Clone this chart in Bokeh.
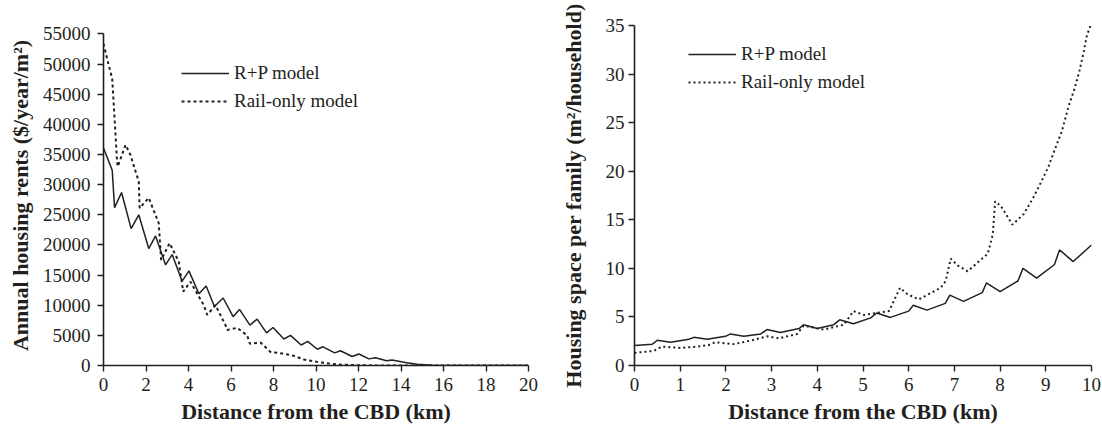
from bokeh.plotting import figure
from bokeh.layouts import row
from bokeh.models import Range1d, Legend, LegendItem, FixedTicker, BasicTickFormatter
from bokeh.embed import file_html
from bokeh.resources import INLINE

# ---------------- data: left panel (annual housing rents, $/year/m2) ----------------
rent_rp_km = [0, 0.41, 0.52, 0.85, 1.30, 1.66, 2.13, 2.45, 2.92, 3.23, 3.70, 4.02, 4.49, 4.83,
              5.22, 5.63, 6.10, 6.40, 6.89, 7.23, 7.67, 7.98, 8.49, 8.80, 9.30, 9.61, 10.06,
              10.33, 10.88, 11.15, 11.70, 12.02, 12.49, 12.80, 13.32, 13.58, 14.2, 14.76, 15.5,
              16.0, 20.0]
rent_rp = [36100, 32400, 26200, 28700, 22700, 25000, 19400, 21500, 16700, 18400, 14000, 15700,
           11900, 13200, 9800, 11200, 8100, 9300, 6700, 7700, 5400, 6300, 4400, 5000, 3400, 4000,
           2700, 3100, 2100, 2450, 1500, 1900, 1100, 1300, 800, 900, 500, 200, 50, 0, 0]

rent_rail_km = [0, 0.17, 0.41, 0.64, 0.67, 1.04, 1.27, 1.66, 1.70, 2.13, 2.60, 2.71, 3.11, 3.54,
                3.75, 4.09, 4.72, 4.88, 5.27, 5.74, 5.82, 6.29, 6.76, 6.89, 7.39, 7.86, 8.41,
                8.96, 9.43, 10.06, 10.68, 11.15, 12.0, 13.0, 20.0]
rent_rail = [53400, 50900, 47600, 33800, 33000, 36600, 34900, 30500, 26100, 27800, 23600, 17500,
             20300, 17250, 12250, 13900, 10000, 8400, 10000, 6700, 5900, 6250, 5000, 3600, 3800,
             2250, 2000, 1600, 1000, 600, 300, 150, 50, 0, 0]

# ---------------- data: right panel (housing space per family, m2/household) ----------------
space_rp_km = [0, 0.39, 0.50, 0.79, 1.19, 1.30, 1.59, 1.99, 2.10, 2.39, 2.76, 2.90, 3.19, 3.60,
               3.70, 4.00, 4.36, 4.49, 4.79, 5.17, 5.30, 5.60, 6.00, 6.10, 6.40, 6.80, 6.90, 7.20,
               7.61, 7.70, 8.00, 8.39, 8.50, 8.80, 9.19, 9.30, 9.60, 10.0]
space_rp = [2.05, 2.2, 2.6, 2.4, 2.7, 2.9, 2.7, 3.0, 3.25, 3.0, 3.25, 3.7, 3.4, 3.8, 4.2, 3.8, 4.2,
            4.7, 4.3, 4.9, 5.4, 4.95, 5.6, 6.2, 5.7, 6.4, 7.25, 6.6, 7.5, 8.5, 7.6, 8.7, 10.0, 9.0,
            10.4, 11.9, 10.7, 12.4]

space_rail_km = [0, 0.42, 0.60, 1.00, 1.37, 1.62, 1.77, 2.17, 2.58, 2.90, 3.16, 3.56, 3.70, 4.14,
                 4.58, 4.79, 5.02, 5.57, 5.81, 5.97, 6.22, 6.70, 6.81, 6.92, 7.07, 7.29, 7.73,
                 7.84, 7.89, 8.02, 8.27, 8.52, 8.74, 8.90, 9.06, 9.21, 9.35, 9.50, 9.63, 9.74,
                 9.83, 9.90, 9.98]
space_rail = [1.3, 1.5, 1.95, 1.8, 1.95, 2.1, 2.4, 2.2, 2.6, 3.0, 2.8, 3.25, 4.1, 3.7, 4.2, 5.6,
              5.2, 5.6, 8.0, 7.35, 6.8, 8.0, 8.7, 11.0, 10.3, 9.7, 11.5, 13.5, 16.9, 16.4, 14.5,
              15.6, 17.4, 18.9, 20.5, 22.4, 24.1, 26.7, 28.5, 30.4, 32.3, 34.0, 35.0]

left_xticks = [0, 2, 4, 6, 8, 10, 12, 14, 16, 18, 20]
left_yticks = [0, 5000, 10000, 15000, 20000, 25000, 30000, 35000, 40000, 45000, 50000, 55000]
right_xticks = [0, 1, 2, 3, 4, 5, 6, 7, 8, 9, 10]
right_yticks = [0, 5, 10, 15, 20, 25, 30, 35]

INK = "#231f20"
FONT = "Liberation Serif"


def style(p, xticks, yticks, xlabel, ylabel, ystandoff, ylabstand):
    p.xgrid.grid_line_color = None
    p.ygrid.grid_line_color = None
    p.outline_line_color = None
    p.xaxis.ticker = FixedTicker(ticks=xticks)
    p.yaxis.ticker = FixedTicker(ticks=yticks)
    p.yaxis.formatter = BasicTickFormatter(use_scientific=False)
    p.yaxis.bounds = (yticks[0], yticks[-1])
    p.xaxis.axis_label = xlabel
    p.yaxis.axis_label = ylabel
    for ax in (p.xaxis, p.yaxis):
        ax.axis_line_color = INK
        ax.axis_line_width = 1.6
        ax.major_tick_line_color = INK
        ax.major_tick_line_width = 1.4
        ax.major_tick_out = 6
        ax.major_tick_in = 0
        ax.minor_tick_line_color = None
        ax.major_label_text_font = FONT
        ax.major_label_text_font_size = "19px"
        ax.major_label_text_color = INK
        ax.axis_label_text_font = FONT
        ax.axis_label_text_font_style = "bold"
        ax.axis_label_text_font_size = "22px"
        ax.axis_label_text_color = INK
    p.xaxis.major_label_standoff = 6
    p.xaxis.axis_label_standoff = 5
    p.yaxis.major_label_standoff = ystandoff
    p.yaxis.axis_label_standoff = ylabstand


def add_legend(p, r1, r2, loc):
    leg = Legend(items=[LegendItem(label="R+P model", renderers=[r1]),
                        LegendItem(label="Rail-only model", renderers=[r2])],
                 location=loc)
    leg.glyph_width = 48
    leg.glyph_height = 20
    leg.label_height = 20
    leg.label_standoff = 5
    leg.spacing = 6
    leg.padding = 0
    leg.margin = 0
    leg.border_line_color = None
    leg.background_fill_alpha = 0
    leg.label_text_font = FONT
    leg.label_text_font_size = "19px"
    leg.label_text_color = INK
    p.add_layout(leg)


# ---------------- left figure ----------------
# frame 25..365 px; the rent axis (0..55000) spans 33.5..365 px, so the range runs a little past 55000
p1 = figure(width=553, height=430, output_backend="svg", toolbar_location=None,
            x_range=Range1d(0, 20), y_range=Range1d(0, 56410),
            min_border_left=103, min_border_right=25, min_border_top=25, min_border_bottom=65)
style(p1, left_xticks, left_yticks, "Distance from the CBD (km)",
      "Annual housing rents ($/year/m\u00b2)", 7, 7)
a1 = p1.line(rent_rp_km, rent_rp, line_color=INK, line_width=1.5)
b1 = p1.line(rent_rail_km, rent_rail, line_color=INK, line_width=2, line_dash="3 3")
add_legend(p1, a1, b1, (78, 253))

# ---------------- right figure ----------------
p2 = figure(width=548, height=430, output_backend="svg", toolbar_location=None,
            x_range=Range1d(0, 10), y_range=Range1d(0, 35),
            min_border_left=81, min_border_right=10, min_border_top=25, min_border_bottom=65)
style(p2, right_xticks, right_yticks, "Distance from the CBD (km)",
      "Housing space per family (m\u00b2/household)", 4, 17)
a2 = p2.line(space_rp_km, space_rp, line_color=INK, line_width=1.5)
b2 = p2.line(space_rail_km, space_rail, line_color=INK, line_width=2, line_dash="2 3")
add_legend(p2, a2, b2, (54, 272))

layout = row(p1, p2)
open("out.html", "w").write(file_html(layout, INLINE))
